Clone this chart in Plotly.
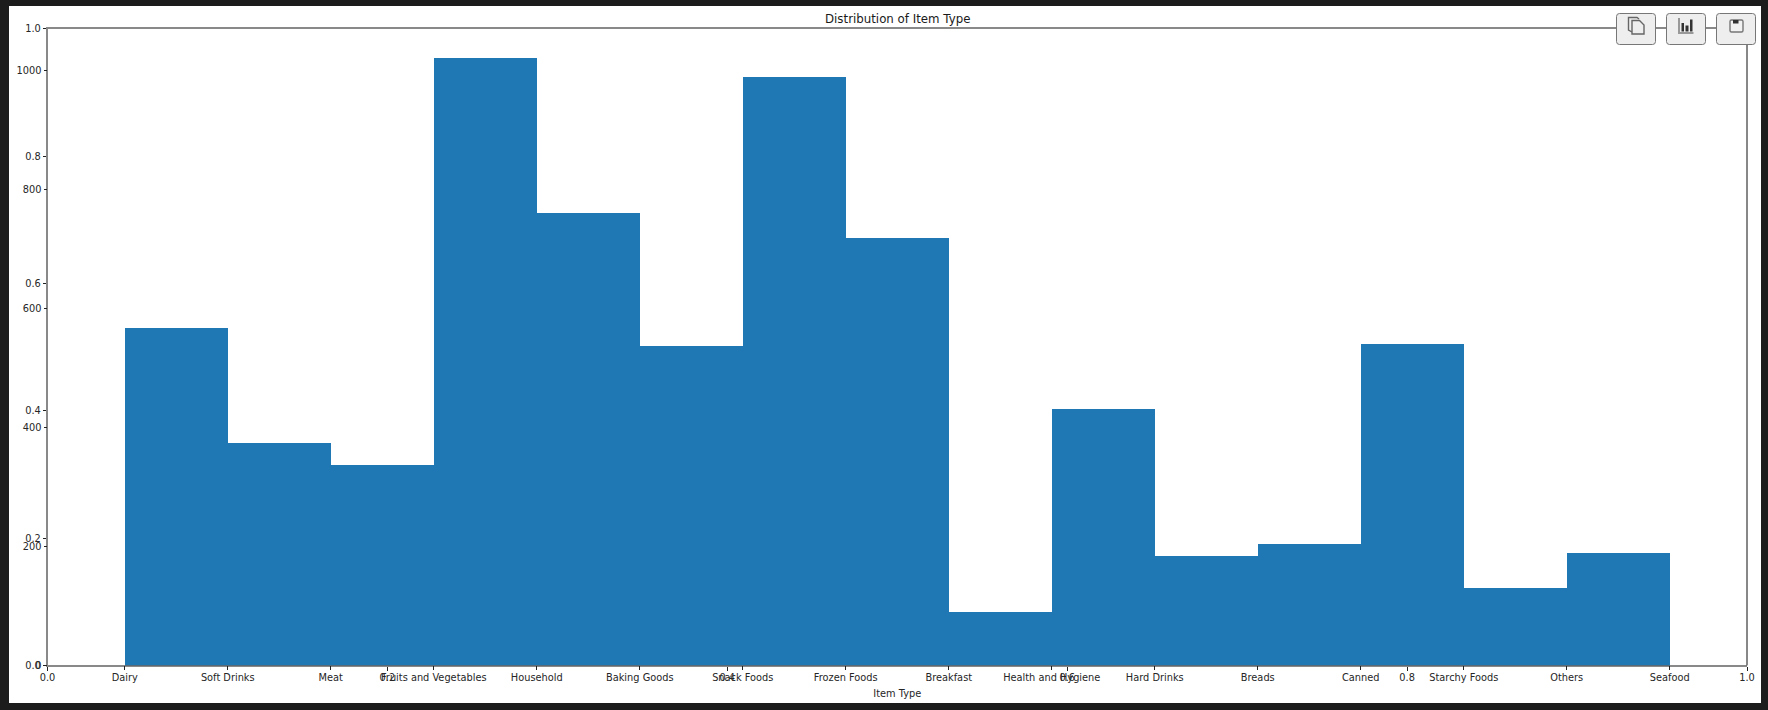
import plotly.graph_objects as go

W, H = 1768, 710

# Item type labels along the lower axis, and the count in each histogram bin
categories = ["Dairy", "Soft Drinks", "Meat", "Fruits and Vegetables", "Household",
              "Baking Goods", "Snack Foods", "Frozen Foods", "Breakfast",
              "Health and Hygiene", "Hard Drinks", "Breads", "Canned",
              "Starchy Foods", "Others", "Seafood"]
bin_left = list(range(15))
counts = [567, 374, 337, 1021, 760, 537, 989, 718, 90, 431, 184, 205, 540, 130, 189]
count_ticks = [0, 200, 400, 600, 800, 1000]
unit_ticks = [0.0, 0.2, 0.4, 0.6, 0.8, 1.0]

AX_L, AX_R, AX_T, AX_B = 47.5, 1747.0, 28.8, 665.4
COUNT_MAX = 1069.7
FONT = "DejaVu Sans"
TICK_SIZE = 9.8
SPINE = "rgba(40,40,40,0.55)"


def px(x):
    return x / W


def py(y):
    return 1 - y / H


def rounded_box(x0, y0, x1, y1, r=3):
    a0, a1 = px(x0), px(x1)
    b0, b1 = py(y0), py(y1)
    rx, ry = r / W, r / H
    return (f"M{a0+rx},{b0} L{a1-rx},{b0} Q{a1},{b0} {a1},{b0-ry} L{a1},{b1+ry} "
            f"Q{a1},{b1} {a1-rx},{b1} L{a0+rx},{b1} Q{a0},{b1} {a0},{b1+ry} "
            f"L{a0},{b0-ry} Q{a0},{b0} {a0+rx},{b0} Z")


def poly(points):
    return "M" + " L".join(f"{px(x)},{py(y)}" for x, y in points)


fig = go.Figure()

# Empty trace keeps the unit axes drawn on top of the histogram axes
fig.add_trace(go.Scatter(x=[], y=[], xaxis="x2", yaxis="y2", showlegend=False))

fig.add_trace(go.Bar(
    x=[b + 0.5 for b in bin_left], y=counts, width=1.0,
    marker=dict(color="#1f77b4", line=dict(width=0)),
    showlegend=False, hoverinfo="skip",
))

shapes = [
    dict(type="rect", xref="paper", yref="paper", layer="below",
         x0=px(9), x1=px(1761), y0=py(703), y1=py(6),
         fillcolor="white", line=dict(width=0)),
    # right-hand spine
    dict(type="line", xref="paper", yref="paper", layer="above",
         x0=px(AX_R), x1=px(AX_R), y0=py(AX_B), y1=py(AX_T),
         line=dict(color="#111111", width=1)),
]

# Toolbar buttons in the top right corner
for x0 in (1616.5, 1666.5, 1716.5):
    shapes.append(dict(type="path", xref="paper", yref="paper", layer="above",
                       path=rounded_box(x0, 13.5, x0 + 39, 44.5),
                       fillcolor="#eeeeee", line=dict(color="#777777", width=1)))

icon = dict(type="path", xref="paper", yref="paper", layer="above")
shapes += [
    # copy
    dict(icon, path=poly([(1632, 32), (1628.5, 30), (1628.5, 17.5), (1637, 17.5), (1639, 19)]),
         line=dict(color="#666666", width=1.4)),
    dict(icon, path=poly([(1632, 20.5), (1639.5, 20.5), (1644, 25), (1644, 34), (1632, 34)]) + " Z",
         fillcolor="#eeeeee", line=dict(color="#666666", width=1.4)),
    # bars
    dict(icon, path=poly([(1679, 18), (1679, 33), (1693.5, 33)]),
         line=dict(color="#999999", width=2)),
    dict(icon, path=poly([(1681.5, 31.5), (1681.5, 23), (1684, 23), (1684, 31.5)]) + " Z",
         fillcolor="#333333", line=dict(width=0)),
    dict(icon, path=poly([(1685.5, 31.5), (1685.5, 25.5), (1688.5, 25.5), (1688.5, 31.5)]) + " Z",
         fillcolor="#333333", line=dict(width=0)),
    dict(icon, path=poly([(1690, 31.5), (1690, 19.5), (1692.5, 19.5), (1692.5, 31.5)]) + " Z",
         fillcolor="#333333", line=dict(width=0)),
    # save
    dict(icon, path=rounded_box(1730, 20, 1743, 32, 1.5),
         fillcolor="#f2f2f2", line=dict(color="#777777", width=1.4)),
    dict(icon, path=poly([(1733, 20), (1733, 23.5), (1738.5, 23.5), (1738.5, 20)]) + " Z",
         fillcolor="#333333", line=dict(width=0)),
]

tickfont = dict(family=FONT, size=TICK_SIZE, color="#262626")
common = dict(showgrid=False, zeroline=False, ticks="outside", ticklen=4, tickwidth=1,
              tickcolor="#222222", tickfont=tickfont, automargin=False)

fig.update_layout(
    width=W, height=H, autosize=False,
    margin=dict(l=0, r=0, t=0, b=0, pad=0),
    paper_bgcolor="#1c1c1c", plot_bgcolor="rgba(0,0,0,0)",
    bargap=0,
    shapes=shapes,
    annotations=[
        dict(text="Distribution of Item Type", xref="paper", yref="paper",
             x=px(897), y=py(19), showarrow=False, xanchor="center", yanchor="middle",
             font=dict(family=FONT, size=11.8, color="#1a1a1a")),
    ],
    xaxis=dict(common, domain=[px(AX_L), px(AX_R)], range=[-0.75, 15.75],
               tickmode="array", tickvals=list(range(16)), ticktext=categories,
               showline=False, tickangle=0, ticklabelstandoff=-1,
               title=dict(text="Item Type", standoff=7,
                          font=dict(family=FONT, size=TICK_SIZE, color="#262626"))),
    yaxis=dict(common, domain=[py(AX_B), py(AX_T)], range=[0, COUNT_MAX], ticklen=3,
               tickmode="array", tickvals=count_ticks, ticktext=[str(t) for t in count_ticks],
               showline=False),
    xaxis2=dict(common, domain=[px(AX_L), px(AX_R)], range=[0, 1], overlaying="x",
                anchor="y2", side="bottom", tickmode="array", tickvals=unit_ticks,
                ticktext=[f"{t:.1f}" for t in unit_ticks], tickangle=0, ticklabelstandoff=-2,
                showline=True, linecolor=SPINE, linewidth=1.5, mirror=True),
    yaxis2=dict(common, domain=[py(AX_B), py(AX_T)], range=[0, 1], overlaying="y", ticklen=3,
                anchor="x2", side="left", tickmode="array", tickvals=unit_ticks,
                ticktext=[f"{t:.1f}" for t in unit_ticks],
                showline=True, linecolor=SPINE, linewidth=1.5),
)

fig.write_html("out.html", config={"displayModeBar": False})
